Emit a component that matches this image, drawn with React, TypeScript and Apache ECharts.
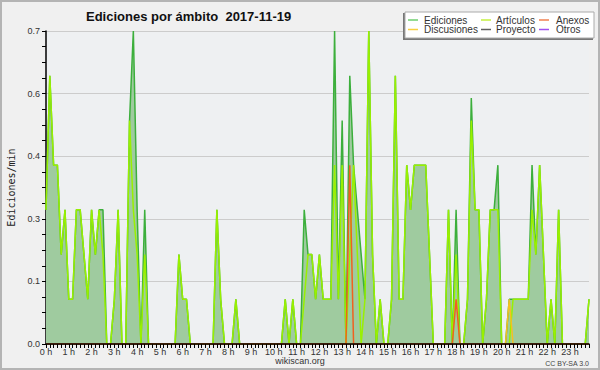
import React, { useEffect, useRef } from "react";
import * as echarts from "echarts";

// 10-minute bins over the day (144 points)
const categories: string[] = [];
for (let h = 0; h < 24; h++) {
  for (let m = 0; m < 60; m += 10) {
    categories.push(`${h}:${m < 10 ? "0" + m : m}`);
  }
}

const hourLabels = [
  "0 h", "1 h", "2 h", "3 h", "4 h", "5 h", "6 h", "7 h", "8 h", "9 h", "10 h", "11 h",
  "12 h", "13 h", "14 h", "15 h", "16 h", "17 h", "18 h", "19 h", "20 h", "21 h", "22 h", "23 h",
];

const ediciones = [
  0.3, 0.6, 0.4, 0.4, 0.2, 0.3, 0.1, 0.1, 0.3, 0.3, 0.2, 0.1,
  0.3, 0.2, 0.3, 0.3, 0, 0, 0.1, 0.3, 0, 0, 0.5, 0.7,
  0.3, 0, 0.3, 0, 0, 0, 0, 0, 0, 0, 0, 0.2,
  0.1, 0.1, 0, 0, 0, 0, 0, 0, 0, 0.3, 0.1, 0,
  0, 0, 0.1, 0, 0, 0, 0, 0, 0, 0, 0, 0,
  0, 0, 0, 0.1, 0, 0.1, 0, 0, 0.3, 0.2, 0.2, 0.1,
  0.2, 0.1, 0.1, 0.1, 0.7, 0.1, 0.5, 0, 0.6, 0.4, 0.3, 0.2,
  0.1, 0.7, 0.2, 0, 0.1, 0, 0, 0.1, 0.6, 0.1, 0.1, 0.4,
  0.3, 0.4, 0.4, 0.4, 0.4, 0.2, 0, 0, 0, 0, 0.3, 0,
  0.3, 0, 0, 0.1, 0.55, 0.3, 0.3, 0, 0.1, 0.3, 0.3, 0.4,
  0, 0, 0.1, 0.1, 0.1, 0.1, 0.1, 0.1, 0.4, 0.2, 0.4, 0.2,
  0, 0.1, 0, 0.3, 0, 0, 0, 0, 0, 0, 0, 0.1,
];

const articulos = [
  0.3, 0.6, 0.4, 0.4, 0.2, 0.3, 0.1, 0.1, 0.3, 0.3, 0.2, 0.1,
  0.3, 0.2, 0.3, 0.2, 0, 0, 0.1, 0.3, 0, 0, 0.5, 0.3,
  0.2, 0, 0.2, 0, 0, 0, 0, 0, 0, 0, 0, 0.2,
  0.1, 0.1, 0, 0, 0, 0, 0, 0, 0, 0.3, 0.1, 0,
  0, 0, 0.1, 0, 0, 0, 0, 0, 0, 0, 0, 0,
  0, 0, 0, 0.1, 0, 0.1, 0, 0, 0.1, 0.2, 0.2, 0.1,
  0.2, 0.1, 0.1, 0.1, 0.4, 0.1, 0.4, 0, 0.2, 0.4, 0.2, 0,
  0.1, 0.7, 0.2, 0, 0.1, 0, 0, 0.1, 0.6, 0.1, 0.1, 0.4,
  0.3, 0.4, 0.4, 0.4, 0.4, 0.2, 0, 0, 0, 0, 0.3, 0,
  0.2, 0, 0, 0.1, 0.5, 0.3, 0.3, 0, 0.1, 0.3, 0.3, 0.3,
  0, 0, 0, 0.1, 0.1, 0.1, 0.1, 0.1, 0.3, 0.2, 0.4, 0.2,
  0, 0.1, 0, 0.3, 0, 0, 0, 0, 0, 0, 0, 0.1,
];

const anexos = [
  0, 0, 0, 0, 0, 0, 0, 0, 0, 0, 0, 0,
  0, 0, 0, 0, 0, 0, 0, 0, 0, 0, 0, 0,
  0, 0, 0, 0, 0, 0, 0, 0, 0, 0, 0, 0,
  0, 0, 0, 0, 0, 0, 0, 0, 0, 0, 0, 0,
  0, 0, 0, 0, 0, 0, 0, 0, 0, 0, 0, 0,
  0, 0, 0, 0, 0, 0, 0, 0, 0, 0, 0, 0,
  0, 0, 0, 0, 0, 0, 0, 0, 0.4, 0, 0, 0,
  0, 0, 0, 0, 0, 0, 0, 0, 0, 0, 0, 0,
  0, 0, 0, 0, 0, 0, 0, 0, 0, 0, 0, 0,
  0.1, 0, 0, 0, 0, 0, 0, 0, 0, 0, 0, 0,
  0, 0, 0, 0, 0, 0, 0, 0, 0, 0, 0, 0,
  0, 0, 0, 0, 0, 0, 0, 0, 0, 0, 0, 0,
];

const discusiones = [
  0, 0, 0, 0, 0, 0, 0, 0, 0, 0, 0, 0,
  0, 0, 0, 0, 0, 0, 0, 0, 0, 0, 0, 0,
  0, 0, 0, 0, 0, 0, 0, 0, 0, 0, 0, 0,
  0, 0, 0, 0, 0, 0, 0, 0, 0, 0, 0, 0,
  0, 0, 0, 0, 0, 0, 0, 0, 0, 0, 0, 0,
  0, 0, 0, 0, 0, 0, 0, 0, 0, 0, 0, 0,
  0, 0, 0, 0, 0, 0, 0, 0, 0, 0, 0, 0,
  0, 0, 0, 0, 0, 0, 0, 0, 0, 0, 0, 0,
  0, 0, 0, 0, 0, 0, 0, 0, 0, 0, 0, 0,
  0, 0, 0, 0, 0, 0, 0, 0, 0, 0, 0, 0,
  0, 0, 0.1, 0, 0, 0, 0, 0, 0, 0, 0, 0,
  0, 0, 0, 0, 0, 0, 0, 0, 0, 0, 0, 0,
];

const proyecto = [
  0, 0, 0, 0, 0, 0, 0, 0, 0, 0, 0, 0,
  0, 0, 0, 0, 0, 0, 0, 0, 0, 0, 0, 0,
  0, 0, 0, 0, 0, 0, 0, 0, 0, 0, 0, 0,
  0, 0, 0, 0, 0, 0, 0, 0, 0, 0, 0, 0,
  0, 0, 0, 0, 0, 0, 0, 0, 0, 0, 0, 0,
  0, 0, 0, 0, 0, 0, 0, 0, 0, 0, 0, 0,
  0, 0, 0, 0, 0, 0, 0, 0, 0, 0, 0, 0,
  0, 0, 0, 0, 0, 0, 0, 0, 0, 0, 0, 0,
  0, 0, 0, 0, 0, 0, 0, 0, 0, 0, 0, 0,
  0, 0, 0, 0, 0, 0, 0, 0, 0, 0, 0, 0,
  0, 0, 0, 0, 0, 0, 0, 0, 0, 0, 0, 0,
  0, 0, 0, 0, 0, 0, 0, 0, 0, 0, 0, 0,
];

const otros = [
  0, 0, 0, 0, 0, 0, 0, 0, 0, 0, 0, 0,
  0, 0, 0, 0, 0, 0, 0, 0, 0, 0, 0, 0,
  0, 0, 0, 0, 0, 0, 0, 0, 0, 0, 0, 0,
  0, 0, 0, 0, 0, 0, 0, 0, 0, 0, 0, 0,
  0, 0, 0, 0, 0, 0, 0, 0, 0, 0, 0, 0,
  0, 0, 0, 0, 0, 0, 0, 0, 0, 0, 0, 0,
  0, 0, 0, 0, 0, 0, 0, 0, 0, 0, 0, 0,
  0, 0, 0, 0, 0, 0, 0, 0, 0, 0, 0, 0,
  0, 0, 0, 0, 0, 0, 0, 0, 0, 0, 0, 0,
  0, 0, 0, 0, 0, 0, 0, 0, 0, 0, 0, 0,
  0, 0, 0, 0, 0, 0, 0, 0, 0, 0, 0, 0,
  0, 0, 0, 0, 0, 0, 0, 0, 0, 0, 0, 0,
];

const legendItems = [
  { name: "Ediciones", color: "#6fcf6f", col: 0, row: 0 },
  { name: "Artículos", color: "#c4f040", col: 1, row: 0 },
  { name: "Anexos", color: "#f08050", col: 2, row: 0 },
  { name: "Discusiones", color: "#f8d040", col: 0, row: 1 },
  { name: "Proyecto", color: "#606060", col: 1, row: 1 },
  { name: "Otros", color: "#a050f0", col: 2, row: 1 },
];

const FONT = "Liberation Sans";

export default function App() {
  const ref = useRef<HTMLDivElement>(null);

  useEffect(() => {
    if (!ref.current) return;
    const chart = echarts.init(ref.current, null, { renderer: "svg" });

    const colX = [408, 481, 539];
    const textX = [424, 496, 556];
    const rowY = [20, 29.5];

    const legendGraphics: any[] = [];
    legendItems.forEach((it) => {
      legendGraphics.push({
        type: "line",
        shape: { x1: colX[it.col], y1: rowY[it.row], x2: colX[it.col] + 10, y2: rowY[it.row] },
        style: { stroke: it.color, lineWidth: 1.5 },
        z: 101,
      });
      legendGraphics.push({
        type: "text",
        x: textX[it.col],
        y: rowY[it.row],
        style: {
          text: it.name,
          fontFamily: FONT,
          fontSize: 10,
          fill: "#333",
          verticalAlign: "middle",
          align: "left",
        },
        z: 101,
      });
    });

    const lineSeries = (name: string, data: number[], color: string, extra: any = {}) => ({
      name,
      type: "line",
      data,
      symbol: "none",
      showSymbol: false,
      smooth: false,
      lineStyle: { color, width: 1.5 },
      itemStyle: { color },
      ...extra,
    });

    chart.setOption({
      animation: false,
      backgroundColor: "#f0f0f0",
      grid: {
        left: 46,
        right: 11,
        top: 31,
        bottom: 26,
        containLabel: false,
        outerBoundsMode: "none",
        show: true,
        backgroundColor: "#eef0f2",
        borderWidth: 0,
      },
      xAxis: {
        type: "category",
        data: categories,
        boundaryGap: false,
        z: 10,
        axisLine: { show: true, lineStyle: { color: "#000", width: 1.5 } },
        axisTick: { show: true, interval: 0, length: 4, lineStyle: { color: "#000", width: 1 } },
        axisLabel: {
          interval: 5,
          formatter: (_v: string, idx: number) => hourLabels[Math.round(idx / 6)],
          fontFamily: FONT,
          fontSize: 9,
          color: "#333",
          margin: 3,
        },
        splitLine: { show: false },
      },
      yAxis: {
        type: "value",
        min: 0,
        max: 0.7,
        interval: 0.14,
        name: "Ediciones/min",
        nameLocation: "middle",
        nameRotate: 90,
        nameGap: 29,
        nameTextStyle: { fontFamily: "DejaVu Sans Mono", fontSize: 10, color: "#222" },
        axisLine: { show: true, lineStyle: { color: "#000", width: 1.5 } },
        axisTick: { show: true, length: 4, lineStyle: { color: "#000" } },
        minorTick: { show: true, splitNumber: 4, length: 4, lineStyle: { color: "#000" } },
        splitLine: { show: true, lineStyle: { color: "#cccccc", width: 1 } },
        minorSplitLine: { show: false },
        axisLabel: {
          formatter: (v: number) => v.toFixed(1),
          fontFamily: FONT,
          fontSize: 9,
          color: "#333",
          margin: 6,
        },
      },
      series: [
        lineSeries("Proyecto", proyecto, "#606060"),
        lineSeries("Otros", otros, "#a050f0"),
        lineSeries("Ediciones", ediciones, "#3caf3c", {
          areaStyle: { color: "#9fcb9f", opacity: 1 },
        }),
        lineSeries("Artículos", articulos, "#99f000"),
        lineSeries("Discusiones", discusiones, "#f5c020"),
        lineSeries("Anexos", anexos, "#f06020"),
      ],
      graphic: [
        {
          type: "rect",
          shape: { x: 1, y: 1, width: 598, height: 368 },
          style: { fill: "none", stroke: "#b4b4b4", lineWidth: 2 },
          silent: true,
          z: 50,
        },
        {
          type: "text",
          x: 86,
          y: 16,
          style: {
            text: "Ediciones por ámbito  2017-11-19",
            fontFamily: FONT,
            fontWeight: "bold",
            fontSize: 13,
            fill: "#111",
            verticalAlign: "middle",
          },
        },
        {
          type: "rect",
          shape: { x: 403, y: 13, width: 190, height: 27 },
          style: { fill: "#777", stroke: "none" },
          z: 99,
        },
        {
          type: "rect",
          shape: { x: 405, y: 12, width: 189, height: 26 },
          style: { fill: "#ffffff", stroke: "#aaaaaa", lineWidth: 1 },
          z: 100,
        },
        ...legendGraphics,
        {
          type: "text",
          x: 300,
          y: 361,
          style: {
            text: "wikiscan.org",
            fontFamily: FONT,
            fontSize: 9,
            fill: "#333",
            align: "center",
            verticalAlign: "middle",
          },
        },
        {
          type: "text",
          x: 589,
          y: 363,
          style: {
            text: "CC BY-SA 3.0",
            fontFamily: FONT,
            fontSize: 7,
            fill: "#444",
            align: "right",
            verticalAlign: "middle",
          },
        },
      ],
    });

    return () => chart.dispose();
  }, []);

  return (
    <div
      ref={ref}
      style={{ position: "fixed", left: 0, top: 0, width: 600, height: 370 }}
    />
  );
}
